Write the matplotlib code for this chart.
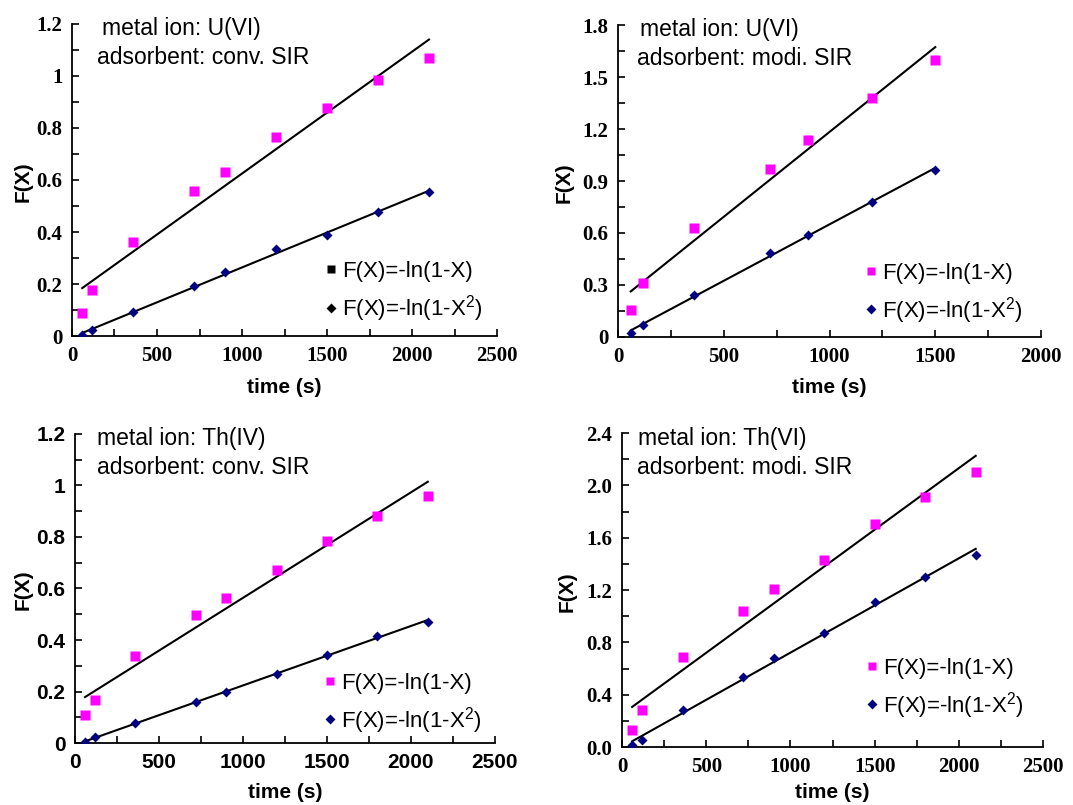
import numpy as np
import matplotlib.pyplot as plt
from matplotlib.ticker import MultipleLocator, FuncFormatter
from matplotlib.lines import Line2D

plt.rcParams['font.family'] = ['Liberation Sans', 'DejaVu Sans']
plt.rcParams['mathtext.fontset'] = 'custom'
plt.rcParams['mathtext.rm'] = 'Liberation Sans'
plt.rcParams['mathtext.default'] = 'regular'

# time points (s)
t_long = [60, 120, 360, 720, 900, 1200, 1500, 1800, 2100]
t_short = [60, 120, 360, 720, 900, 1200, 1500]

# U(VI), conventional SIR
u_conv_fx1 = [0.090, 0.177, 0.360, 0.558, 0.632, 0.764, 0.876, 0.985, 1.068]
u_conv_fx2 = [0.004, 0.023, 0.091, 0.194, 0.245, 0.335, 0.387, 0.477, 0.553]
# U(VI), modified SIR
u_modi_fx1 = [0.158, 0.312, 0.631, 0.971, 1.138, 1.377, 1.600]
u_modi_fx2 = [0.023, 0.071, 0.244, 0.485, 0.590, 0.781, 0.962]
# Th(IV), conventional SIR
th_conv_fx1 = [0.110, 0.168, 0.337, 0.498, 0.563, 0.672, 0.786, 0.883, 0.958]
th_conv_fx2 = [0.004, 0.022, 0.078, 0.158, 0.197, 0.269, 0.343, 0.416, 0.470]
# Th(VI), modified SIR
th_modi_fx1 = [0.128, 0.281, 0.689, 1.042, 1.208, 1.427, 1.705, 1.910, 2.101]
th_modi_fx2 = [0.013, 0.056, 0.281, 0.539, 0.684, 0.868, 1.111, 1.297, 1.471]

label1 = 'F(X)=-ln(1-X)'
label2 = 'F(X)=-ln(1-X$^{2}$)'
pink = '#ff00ff'
navy = '#000080'

panels = [
    dict(rect=[0.0671, 0.5826, 0.3961, 0.3876], t=t_long, y1=u_conv_fx1, y2=u_conv_fx2,
         ion='metal ion: U(VI)', ads='adsorbent: conv. SIR', xmax=2500, ymax=1.2,
         ymaj=0.2, ymin=0.1, fmt='%g', tickfont='Liberation Serif',
         txt=[(0.07, 0.985), (0.059, 0.894)], leg=(0.59, 0.24), legblack=True,
         ylab=(-0.092, 0.494), xlab=(0.5, -0.135)),
    dict(rect=[0.5760, 0.5814, 0.3942, 0.3875], t=t_short, y1=u_modi_fx1, y2=u_modi_fx2,
         ion='metal ion: U(VI)', ads='adsorbent: modi. SIR', xmax=2000, ymax=1.8,
         ymaj=0.3, ymin=0.15, fmt='%g', tickfont='Liberation Serif',
         txt=[(0.052, 0.985), (0.045, 0.894)], leg=(0.579, 0.238), legblack=False,
         ylab=(-0.106, 0.494), xlab=(0.5, -0.131)),
    dict(rect=[0.0699, 0.0770, 0.3914, 0.3839], t=t_long, y1=th_conv_fx1, y2=th_conv_fx2,
         ion='metal ion: Th(IV)', ads='adsorbent: conv. SIR', xmax=2500, ymax=1.2,
         ymaj=0.2, ymin=0.1, fmt='%g', tickfont='Liberation Sans',
         txt=[(0.052, 0.985), (0.052, 0.89)], leg=(0.588, 0.228), legblack=False,
         ylab=(-0.10, 0.495), xlab=(0.5, -0.129)),
    dict(rect=[0.5797, 0.0720, 0.3924, 0.3901], t=t_long, y1=th_modi_fx1, y2=th_modi_fx2,
         ion='metal ion: Th(VI)', ads='adsorbent: modi. SIR', xmax=2500, ymax=2.4,
         ymaj=0.4, ymin=0.2, fmt='%.1f', tickfont='Liberation Serif',
         txt=[(0.038, 0.982), (0.036, 0.889)], leg=(0.575, 0.285), legblack=False,
         ylab=(-0.107, 0.495), xlab=(0.5, -0.115)),
]

fig = plt.figure(figsize=(10.73, 8.05), dpi=100)

for p in panels:
    ax = fig.add_axes(p['rect'])
    t = np.array(p['t'], dtype=float)

    # linear fits
    for y in (p['y1'], p['y2']):
        k, b = np.polyfit(t, y, 1)
        ax.plot([t[0], t[-1]], [k * t[0] + b, k * t[-1] + b], color='black', lw=1.5, zorder=2)

    ax.plot(t, p['y1'], 's', color=pink, ms=6.5, mec='none', zorder=3)
    ax.plot(t, p['y2'], 'D', color=navy, ms=5, mec='none', zorder=3)

    ax.set_xlim(0, p['xmax'])
    ax.set_ylim(0, p['ymax'])
    ax.xaxis.set_major_locator(MultipleLocator(500))
    ax.xaxis.set_minor_locator(MultipleLocator(250))
    ax.yaxis.set_major_locator(MultipleLocator(p['ymaj']))
    ax.yaxis.set_minor_locator(MultipleLocator(p['ymin']))
    ax.yaxis.set_major_formatter(FuncFormatter(lambda v, pos, f=p['fmt']: f % v))

    for s in ('top', 'right'):
        ax.spines[s].set_visible(False)
    for s in ('left', 'bottom'):
        ax.spines[s].set_linewidth(1.3)

    ax.tick_params(which='both', direction='in', width=1.2, length=5, pad=7)
    for lab in ax.get_xticklabels() + ax.get_yticklabels():
        lab.set_fontfamily(p['tickfont'])
        lab.set_fontweight('bold')
        lab.set_fontsize(15)

    ax.set_xlabel('time (s)', fontsize=15, fontweight='bold')
    ax.set_ylabel('F(X)', fontsize=15, fontweight='bold')
    ax.xaxis.set_label_coords(*p['xlab'])
    ax.yaxis.set_label_coords(*p['ylab'])

    ax.text(p['txt'][0][0], p['txt'][0][1], p['ion'], transform=ax.transAxes,
            fontsize=16.5, va='center', ha='left')
    ax.text(p['txt'][1][0], p['txt'][1][1], p['ads'], transform=ax.transAxes,
            fontsize=16.5, va='center', ha='left')

    c1 = 'black' if p['legblack'] else pink
    c2 = 'black' if p['legblack'] else navy
    handles = [Line2D([], [], ls='none', marker='s', color=c1, ms=6, mec='none'),
               Line2D([], [], ls='none', marker='D', color=c2, ms=5, mec='none')]
    ax.legend(handles, [label1, label2], loc='upper left', bbox_to_anchor=p['leg'],
              frameon=False, fontsize=16, handlelength=0.7, handletextpad=0.15,
              borderpad=0, borderaxespad=0, labelspacing=0.5)

fig.savefig('out.png', dpi=100)
